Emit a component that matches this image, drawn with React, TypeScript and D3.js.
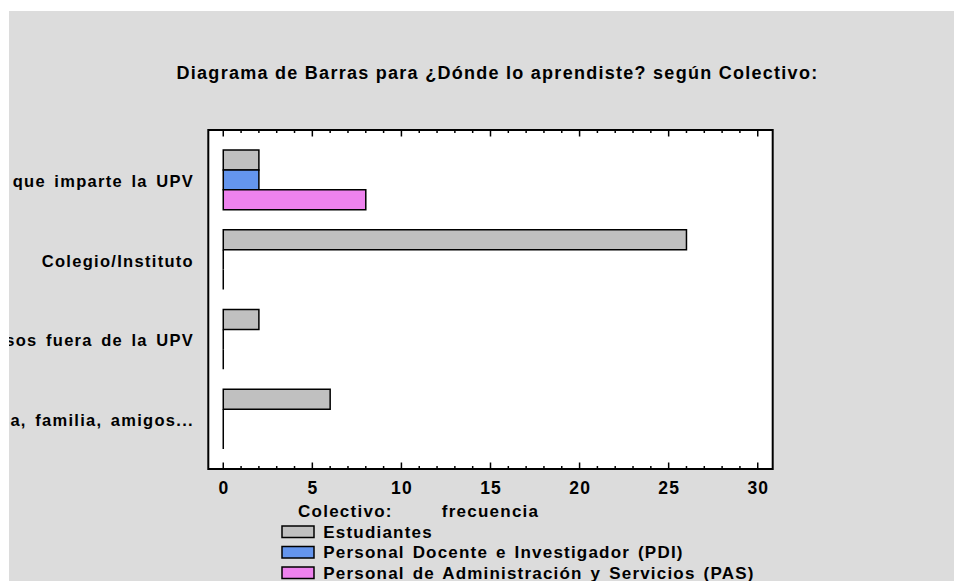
import React from 'react';
import * as d3 from 'd3';

// data
const categories = ['Cursos que imparte la UPV', 'Colegio/Instituto', 'Cursos fuera de la UPV', 'En casa, familia, amigos...'];
const groups = ['Estudiantes', 'Personal Docente e Investigador (PDI)', 'Personal de Administración y Servicios (PAS)'];
const estudiantes = [2, 26, 2, 6];
const pdi = [2, 0, 0, 0];
const pas = [8, 0, 0, 0];
const xTicks = [0, 5, 10, 15, 20, 25, 30];
const minorTicks = d3.range(0, 31);
const colors = ['#c0c0c0', '#6495ed', '#ee82ee'];

const W = 954;
const H = 581;
const frame = { left: 208.3, right: 772.7, top: 130, bottom: 469 };
const font = 'Arial, "Liberation Sans", sans-serif';

const App = () => {
	const series = [estudiantes, pdi, pas];

	const x = d3.scaleLinear().domain([-0.84, 30.84]).range([frame.left, frame.right]);
	const y = d3.scaleBand().domain(categories).range([frame.top, frame.bottom]).paddingInner(0.25).paddingOuter(0.25);
	const sub = d3.scaleBand().domain(groups).range([0, y.bandwidth()]);

	// zero-valued bars still show up as a vertical line at 0, hence paths instead of rects
	const bars = [];
	categories.forEach((cat, i) => {
		groups.forEach((g, j) => {
			const v = series[j][i];
			const p = d3.path();
			const x0 = x(0);
			const y0 = y(cat) + sub(g);
			p.rect(x0, y0, x(v) - x0, sub.bandwidth());
			bars.push(
				<path key={cat + g} d={p.toString()} fill={colors[j]} stroke="#000" strokeWidth={1.5} />
			);
		});
	});

	return (
		<svg width={W} height={H} style={{ position: 'absolute', left: 0, top: 0, fontFamily: font }}>
			<defs>
				<clipPath id="bg-clip">
					<rect x={9} y={11} width={W - 9} height={H - 11} />
				</clipPath>
			</defs>
			<rect x={0} y={0} width={W} height={H} fill="#fff" />
			<rect x={9} y={11} width={W - 9} height={H - 11} fill="#dcdcdc" />

			<text x={497.5} y={79} textAnchor="middle" fontSize={18} fontWeight="bold" letterSpacing={1.27}>
				Diagrama de Barras para ¿Dónde lo aprendiste? según Colectivo:
			</text>

			<rect x={frame.left} y={frame.top} width={frame.right - frame.left} height={frame.bottom - frame.top}
				fill="#fff" stroke="#000" strokeWidth={2} />

			{/* minor and major ticks, bottom and top */}
			{minorTicks.map(t => {
				const len = t % 5 === 0 ? 6.5 : 3;
				return (
					<g key={'t' + t} stroke="#000" strokeWidth={1.5}>
						<line x1={x(t)} x2={x(t)} y1={frame.bottom} y2={frame.bottom - len} />
						<line x1={x(t)} x2={x(t)} y1={frame.top} y2={frame.top + len} />
					</g>
				);
			})}

			{bars}

			{xTicks.map(t => (
				<text key={'l' + t} x={x(t) + 0.6} y={494} textAnchor="middle" fontSize={17.5} fontWeight="bold" letterSpacing={1.2}>
					{t}
				</text>
			))}

			<g clipPath="url(#bg-clip)">
				{categories.map(c => (
					<text key={c} x={194} y={y(c) + y.bandwidth() / 2 + 7} textAnchor="end" fontSize={16.5}
						fontWeight="bold" letterSpacing={1.3} wordSpacing={2.5}>
						{c}
					</text>
				))}

				<text x={298} y={517} fontSize={17} fontWeight="bold" letterSpacing={1.25}>Colectivo:</text>
				<text x={490.5} y={517} textAnchor="middle" fontSize={17} fontWeight="bold" letterSpacing={1.25}>frecuencia</text>

				{groups.map((g, j) => (
					<g key={g} transform={`translate(282,${526 + j * 20.5})`}>
						<rect x={0} y={0} width={32} height={11.5} fill={colors[j]} stroke="#000" strokeWidth={1.5} />
						<text x={41.3} y={11.7} fontSize={17} fontWeight="bold" letterSpacing={1.2} wordSpacing={2}>{g}</text>
					</g>
				))}
			</g>
		</svg>
	);
};

export default App;
